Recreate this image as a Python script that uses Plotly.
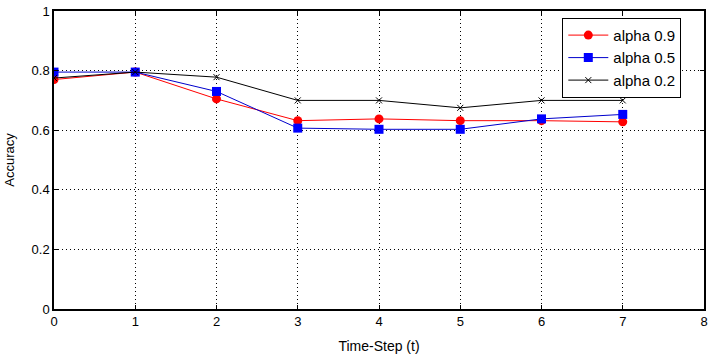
import plotly.graph_objects as go

t = [0, 1, 2, 3, 4, 5, 6, 7]
alpha_09 = [0.770, 0.795, 0.705, 0.632, 0.638, 0.632, 0.632, 0.628]
alpha_05 = [0.795, 0.795, 0.730, 0.607, 0.603, 0.603, 0.638, 0.653]
alpha_02 = [0.775, 0.795, 0.778, 0.700, 0.700, 0.675, 0.700, 0.700]
names = ["alpha 0.9", "alpha 0.5", "alpha 0.2"]
x_ticks = [0, 1, 2, 3, 4, 5, 6, 7, 8]
y_ticks = [0, 0.2, 0.4, 0.6, 0.8, 1]

FONT = "Liberation Sans Narrow, Liberation Sans, Arial, sans-serif"

fig = go.Figure()
fig.add_trace(go.Scatter(x=t, y=alpha_09, name=names[0], mode="lines+markers",
                         line=dict(color="#ff0000", width=1),
                         marker=dict(symbol="circle", size=9, color="#ff0000")))
fig.add_trace(go.Scatter(x=t, y=alpha_05, name=names[1], mode="lines+markers",
                         line=dict(color="#0000cc", width=1),
                         marker=dict(symbol="square", size=9, color="#0000ff")))
fig.add_trace(go.Scatter(x=t, y=alpha_02, name=names[2], mode="lines+markers",
                         line=dict(color="#000000", width=1),
                         marker=dict(symbol="x-thin", size=6, color="#000000",
                                     line=dict(color="#000000", width=1))))

axis_common = dict(showline=True, linecolor="black", linewidth=1.5, mirror="ticks",
                   ticks="inside", ticklen=4, tickcolor="black", automargin=False,
                   showgrid=True, gridcolor="black", griddash="1px,3px", gridwidth=1,
                   zeroline=False, tickfont=dict(family=FONT, size=13, color="black"))

fig.update_xaxes(range=[0, 8], tickvals=x_ticks, ticktext=[str(v) for v in x_ticks],
                 title=dict(text="Time-Step (t)", font=dict(family=FONT, size=14, color="black"),
                            standoff=13),
                 **axis_common)
fig.update_yaxes(range=[0, 1], tickvals=y_ticks, ticktext=["0", "0.2", "0.4", "0.6", "0.8", "1"],
                 title=dict(text="Accuracy", font=dict(family=FONT, size=13, color="black"),
                            standoff=14),
                 **axis_common)

fig.update_layout(
    width=714, height=356,
    margin=dict(l=54, r=10, t=11, b=47),
    plot_bgcolor="white", paper_bgcolor="white",
    font=dict(family=FONT, color="black"),
    showlegend=True,
    legend=dict(x=0.782, y=0.977, xanchor="left", yanchor="top",
                bgcolor="white", bordercolor="black", borderwidth=1,
                font=dict(family=FONT, size=15, color="black"),
                tracegroupgap=0, itemwidth=40),
)

fig.write_html("out.html")
